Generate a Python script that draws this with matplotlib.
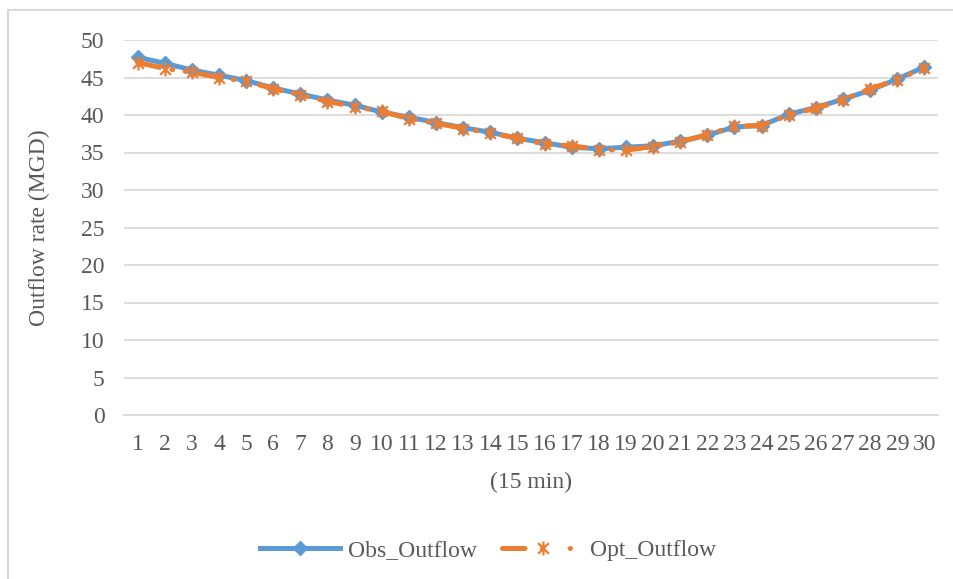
import numpy as np
import matplotlib.pyplot as plt
from matplotlib.patches import Rectangle
from matplotlib.path import Path
from matplotlib.lines import Line2D

# Data
steps = list(range(1, 31))
obs_outflow = [47.7, 46.9, 46.0, 45.3, 44.6, 43.6, 42.8, 42.0, 41.3, 40.4,
               39.7, 39.0, 38.3, 37.7, 36.9, 36.3, 35.7, 35.5, 35.7, 35.9,
               36.5, 37.3, 38.4, 38.6, 40.1, 41.0, 42.1, 43.3, 44.8, 46.4]
opt_outflow = [47.0, 46.2, 45.7, 45.0, 44.5, 43.5, 42.7, 41.8, 41.1, 40.5,
               39.5, 38.9, 38.2, 37.6, 36.9, 36.1, 35.9, 35.4, 35.3, 35.8,
               36.4, 37.4, 38.5, 38.6, 40.0, 40.9, 42.0, 43.5, 44.7, 46.3]
y_ticks = [0, 5, 10, 15, 20, 25, 30, 35, 40, 45, 50]

plt.rcParams['font.family'] = ['Liberation Serif', 'DejaVu Serif']
text_col = '#595959'
grid_col = '#d9d9d9'
obs_col = '#5B9BD5'
opt_col = '#ED7D31'

# excel style star marker: an X plus a vertical bar
star = Path([(-1, -1), (1, 1), (-1, 1), (1, -1), (0, -1.3), (0, 1.3)],
            [Path.MOVETO, Path.LINETO, Path.MOVETO, Path.LINETO, Path.MOVETO, Path.LINETO])

fig = plt.figure(figsize=(9.54, 5.79), dpi=100)
W, H = 954, 579
ax = fig.add_axes([124 / W, 1 - 415 / H, (938 - 124) / W, (415 - 40) / H])

# chart border
fig.patches.append(Rectangle((8 / W, -0.1), 1.0, 1 - 10 / H + 0.1, transform=fig.transFigure,
                             fill=False, edgecolor=grid_col, lw=1.5))

ax.plot(steps, obs_outflow, color=obs_col, lw=3.6, marker='D', ms=7.5,
        zorder=3, solid_joinstyle='round')
ax.plot(steps, opt_outflow, color=opt_col, lw=3.6, marker=star, ms=10, mew=1.6,
        linestyle=(0, (4.5, 2.5, 0.2, 2.5, 0.2, 2.5)), dash_capstyle='round', zorder=4)

ax.set_xlim(0.5, 30.5)
ax.set_ylim(0, 50)
ax.set_yticks(y_ticks)
ax.set_xticks(steps)
ax.grid(axis='y', color=grid_col, lw=1.3)
ax.set_axisbelow(True)
for s in ['top', 'right', 'left']:
    ax.spines[s].set_visible(False)
ax.spines['bottom'].set_color(grid_col)
ax.spines['bottom'].set_linewidth(1.3)
ax.tick_params(length=0, labelsize=17, colors=text_col, pad=14)
ax.tick_params(axis='y', pad=14)

ax.set_ylabel('Outflow rate (MGD)', fontsize=17, color=text_col, labelpad=22)
ax.set_xlabel('(15 min)', fontsize=17, color=text_col, labelpad=12)

# legend proxies (the opt handle shows dash, marker, dot, dot like excel)
h_obs = Line2D([], [], color=obs_col, lw=3.6, marker='D', ms=7.5)
h_opt = Line2D([], [], color=opt_col, lw=3.6, marker=star, ms=10, mew=1.6,
               linestyle=(0, (4.5, 3.5, 0.05, 5.5, 0.05, 10)), dash_capstyle='round')
fig.legend([h_obs, h_opt], ['Obs_Outflow', 'Opt_Outflow'], loc='center',
           bbox_to_anchor=(488 / W, 1 - 550 / H), ncol=2, frameon=False,
           fontsize=17, labelcolor=text_col, handlelength=3.4, columnspacing=1.1,
           handletextpad=0.3)

fig.savefig('out.png', dpi=100)
